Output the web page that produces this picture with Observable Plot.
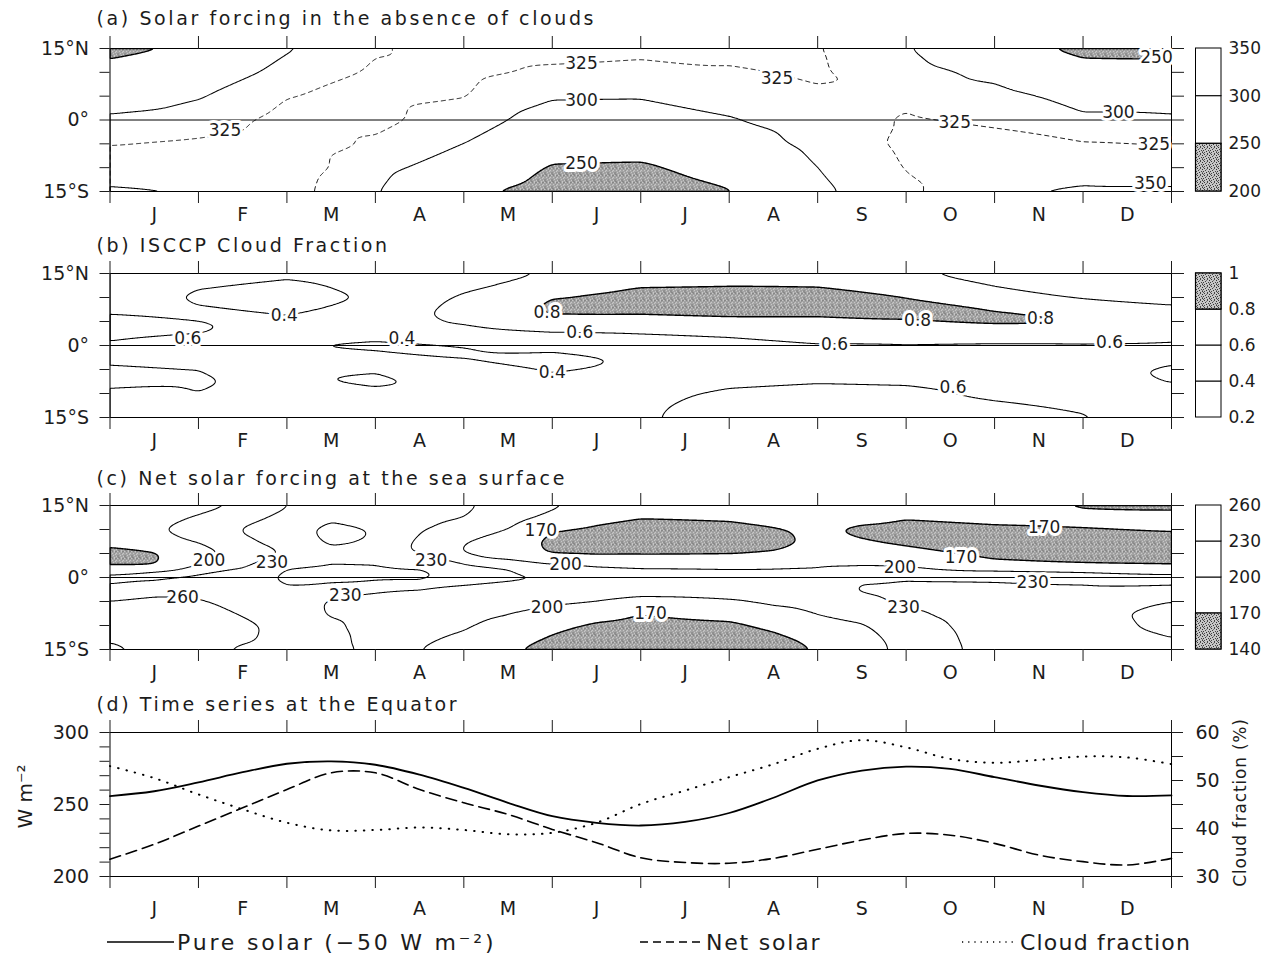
<!DOCTYPE html>
<html>
<head>
<meta charset="utf-8">
<script src="https://cdn.jsdelivr.net/npm/d3@7"></script>
<script src="https://cdn.jsdelivr.net/npm/@observablehq/plot@0.6"></script>
<style>
  html, body { margin: 0; padding: 0; background: #fff; }
  #root { position: relative; width: 1271px; height: 960px; overflow: hidden; background: #fff; }
  #root > svg { position: absolute; overflow: visible; }
</style>
</head>
<body>
<svg width="0" height="0" style="position:absolute">
  <defs>
    <pattern id="stipple" width="7" height="7" patternUnits="userSpaceOnUse">
      <rect width="7" height="7" fill="#c6c6c6"/>
      <rect x="0" y="0" width="1" height="1" fill="#3a3a3a"/>
      <rect x="3" y="0" width="1" height="1" fill="#4a4a4a"/>
      <rect x="5" y="1" width="1" height="1" fill="#333"/>
      <rect x="1" y="2" width="1" height="1" fill="#404040"/>
      <rect x="4" y="3" width="1" height="1" fill="#454545"/>
      <rect x="6" y="3" width="1" height="1" fill="#3a3a3a"/>
      <rect x="2" y="4" width="1" height="1" fill="#333"/>
      <rect x="0" y="5" width="1" height="1" fill="#4a4a4a"/>
      <rect x="5" y="5" width="1" height="1" fill="#3a3a3a"/>
      <rect x="3" y="6" width="1" height="1" fill="#444"/>
      <rect x="6" y="6" width="1" height="1" fill="#555"/>
      <rect x="2" y="1" width="1" height="1" fill="#777"/>
      <rect x="5" y="4" width="1" height="1" fill="#777"/>
    </pattern>
  </defs>
</svg>
<div id="root"></div>
<script>
// ---------------- shared axes ----------------
const monthLabels = ["J","F","M","A","M","J","J","A","S","O","N","D"];
const monthEdges = [0,1,2,3,4,5,6,7,8,9,10,11,12];
const monthCenters = [0.5,1.5,2.5,3.5,4.5,5.5,6.5,7.5,8.5,9.5,10.5,11.5];
const latTicks = [15,10,5,0,-5,-10,-15];
const latTickLabels = {"15": "15°N", "0": "0°", "-15": "15°S"};

// ---------------- (a) Solar forcing in the absence of clouds (W m-2) ----------------
const clearMonths = [0,1,2,3,4,5,6,7,8,9,10,11,12];
const clearLats = [15,10,5,0,-5,-10,-15];
const clear15N = [240,256,297,323,335,333,331,330,326,302,268,240,240];
const clear10N = [263,278,310,328,331,321,318,323,327,313,291,265,263];
const clear5N  = [285,298,324,331,326,303,302,311,323,321,310,290,285];
const clearEq  = [305,312,333,330,315,285,286,298,316,327,321,305,305];
const clear5S  = [324,329,338,322,300,267,266,282,309,330,333,327,324];
const clear10S = [339,341,338,311,280,247,245,265,300,326,342,341,339];
const clear15S = [353,350,335,302,258,235,230,248,294,320,348,353,353];
const clearLevels = [200,250,300,350];
const clearLabelM   = [1.3, 5.33, 5.33, 5.33, 7.54, 9.55, 11.4, 11.8, 11.76, 11.83];
const clearLabelLat = [-2.3, 11.9, 4.0, -9.2, 8.8, -0.6, 1.5, -5.1, -13.3, 13.0];
const clearLabelTxt = ["325","325","300","250","325","325","300","325","350","250"];

// ---------------- (b) ISCCP cloud fraction ----------------
const cloudMonths = [0,1,2,3,4,5,6,7,8,9,10,11,12];
const cloudLats = [15,12.5,10,7.5,5,2.5,0,-2.5,-5,-7.5,-10,-12.5,-15];
const cloud15N  = [0.50,0.50,0.44,0.50,0.50,0.62,0.66,0.68,0.67,0.62,0.55,0.50,0.48];
const cloud12N  = [0.52,0.42,0.36,0.45,0.55,0.70,0.79,0.80,0.79,0.72,0.59,0.53,0.50];
const cloud10N  = [0.55,0.36,0.33,0.42,0.63,0.80,0.86,0.87,0.88,0.80,0.68,0.58,0.55];
const cloud7N   = [0.58,0.42,0.36,0.47,0.66,0.83,0.84,0.86,0.86,0.85,0.80,0.72,0.63];
const cloud5N   = [0.63,0.63,0.44,0.50,0.63,0.75,0.74,0.76,0.76,0.79,0.83,0.805,0.70];
const cloud2N   = [0.65,0.61,0.50,0.47,0.52,0.58,0.60,0.64,0.66,0.70,0.70,0.72,0.68];
const cloudEq   = [0.57,0.50,0.395,0.36,0.40,0.45,0.50,0.52,0.59,0.59,0.58,0.58,0.57];
const cloud2S   = [0.45,0.42,0.48,0.45,0.38,0.36,0.42,0.48,0.52,0.52,0.50,0.50,0.45];
const cloud5S   = [0.37,0.40,0.45,0.42,0.50,0.38,0.43,0.50,0.52,0.52,0.50,0.47,0.37];
const cloud7S   = [0.36,0.39,0.43,0.36,0.48,0.45,0.50,0.56,0.59,0.58,0.53,0.48,0.39];
const cloud10S  = [0.43,0.40,0.47,0.45,0.50,0.50,0.55,0.63,0.65,0.64,0.57,0.53,0.46];
const cloud12S  = [0.47,0.44,0.50,0.50,0.52,0.53,0.57,0.66,0.68,0.67,0.62,0.58,0.50];
const cloud15S  = [0.50,0.50,0.52,0.52,0.53,0.55,0.58,0.67,0.70,0.69,0.65,0.61,0.52];
const cloudLevels = [0.2,0.4,0.6,0.8,1];
const cloudLabelM   = [1.97, 0.88, 3.3, 5.31, 5.0, 4.94, 9.13, 10.52, 8.19, 11.3, 9.53];
const cloudLabelLat = [6.25, 1.4, 1.4, 2.8, -5.6, 6.9, 5.2, 5.6, 0.1, 0.7, -8.7];
const cloudLabelTxt = ["0.4","0.6","0.4","0.6","0.4","0.8","0.8","0.8","0.6","0.6","0.6"];

// ---------------- (c) Net solar forcing at the sea surface (W m-2) ----------------
const netMonths = [0,0.5,1,1.5,2,2.5,3,3.5,4,4.5,5,5.5,6,7,7.5,8,8.5,9,10,11,12];
const netLats = [15,12.5,10,7.5,5,2.5,0,-2.5,-5,-7.5,-10,-12.5,-15];
const net15N = [168,176,188,205,229,240,245,242,235,218,205,188,185,188,192,195,195,192,180,166,166];
const net12N = [180,188,204,222,236,252,250,238,230,212,192,180,171,175,182,188,180,172,176,180,176];
const net10N = [185,197,212,232,242,272,258,233,220,199,172,165,160,160,167,174,164,160,166,168,172];
const net7N  = [180,192,202,226,240,266,256,225,201,185,163,158,156,158,163,175,172,164,160,158,162];
const net5N  = [160,166,186,215,232,248,245,228,198,175,168,166,167,168,172,182,188,180,163,160,158];
const net2N  = [168,168,199,226,256,262,261,255,236,226,205,198,195,194,195,197,198,197,178,172,170];
const netEq  = [208,225,240,245,268,272,270,270,245,238,232,220,215,212,212,214,226,226,225,220,210];
const net2S  = [250,250,252,250,255,245,233,228,222,215,214,214,210,210,212,218,233,240,238,236,242];
const net5S  = [260.5,266,262,254,248,226,222,215,214,207,206,200,193,198,205,210,222,236,245,248,261];
const net7S  = [268,272,270,258,249,227,218,210,208,201,188,182,171,180,190,201,210,225,248,254,266];
const net10S = [268,272,272,265,252,236,216,206,203,192,177,166,160,165,176,190,198,215,246,252,265];
const net12S = [263,270,271,264,252,240,218,204,196,182,168,158,152,155,165,178,192,210,244,250,260];
const net15S = [256,266,268,257,250,240,222,200,190,174,160,152,148,150,158,172,188,208,242,247,255];
const netLevels = [140,170,200,230,260];
const netLabelM   = [1.12, 1.83, 0.82, 3.63, 2.66, 4.87, 5.15, 4.94, 6.11, 8.93, 9.62, 10.56, 10.43, 8.97];
const netLabelLat = [3.5, 3.1, -4.2, 3.5, -3.8, 9.7, 2.8, -6.25, -7.6, 2.1, 4.2, 10.4, -1.0, -6.25];
const netLabelTxt = ["200","230","260","230","230","170","200","200","170","200","170","170","230","230"];

// ---------------- (d) Time series at the Equator ----------------
const tsMonths = [0,0.5,1,1.5,2,2.5,3,3.5,4,4.5,5,5.5,6,6.5,7,7.5,8,8.5,9,9.5,10,10.5,11,11.5,12];
const pureSolar = [255.8,259.2,265.4,272.4,278.3,280.0,277.6,270.7,261.5,251.2,241.9,237.3,235.4,237.9,244.1,254.7,266.7,273.6,276.3,274.7,269.0,263.2,258.6,255.9,256.3];
const netSolar  = [212.0,222.4,235.0,247.7,260.4,272.0,272.0,260.4,251.2,243.1,232.7,223.5,213.0,209.7,209.2,212.6,218.9,225.3,229.9,228.7,223.0,214.9,210.3,208.0,212.6];
const cloudFrac = [53.0,50.5,47.1,44.0,41.2,39.6,39.7,40.2,39.7,38.8,39.1,41.2,45.1,47.9,50.7,53.4,56.6,58.4,56.9,54.5,53.7,54.3,55.0,54.8,53.4];
const wTicks = [200,210,220,230,240,250,260,270,280,290,300];
const wTickLabels = [200,250,300];
const cloudTicks = [30,35,40,45,50,55,60];
const cloudTickLabels = [30,40,50,60];

// ---------------- layout helpers ----------------
const W = 1271, FL = 109.5, FR = 1171;
const FONT = '"DejaVu Sans", "Liberation Sans", Arial, sans-serif';
const INK = "#1c1c1c";
const panelStyle = {fontFamily: FONT, fontSize: "19px", color: INK, background: "transparent", overflow: "visible"};
const root = document.getElementById("root");

function place(svg, top, left = 0) {
  svg.style.position = "absolute";
  svg.style.top = top + "px";
  svg.style.left = left + "px";
  svg.style.maxWidth = "none";
  root.appendChild(svg);
}

function spaceText(svg, text, spacing) {
  d3.select(svg).selectAll("text").filter(function () { return this.textContent === text; })
    .style("letter-spacing", spacing);
}

function gridPoints(months, lats, rows) {
  const pts = [];
  rows.forEach((row, i) => row.forEach((v, j) => pts.push({m: months[j], lat: lats[i], v})));
  return pts;
}

function labelRows(ms, lats, txt) {
  return ms.map((m, i) => ({m, lat: lats[i], t: txt[i]}));
}

function monthAxes(pad) {
  return [
    Plot.axisX({anchor: "bottom", ticks: monthEdges, tickSize: 12, tickFormat: () => "", label: null}),
    Plot.axisX({anchor: "top", ticks: monthEdges, tickSize: 13, tickFormat: () => "", label: null}),
    Plot.axisX({anchor: "bottom", ticks: monthCenters, tickSize: 0, tickPadding: pad,
      tickFormat: (d) => monthLabels[Math.floor(d)], label: null})
  ];
}

function titleMark(text, dy) {
  return Plot.text([text], {frameAnchor: "top-left", text: (d) => d, textAnchor: "start", lineAnchor: "middle",
    dx: -13.5, dy, fontSize: 19, fill: INK});
}

function contourPanel(o) {
  const pts = gridPoints(o.months, o.lats, o.rows);
  const base = {x: "m", y: "lat", interpolate: "barycentric", pixelSize: 1, blur: 3, clip: true};
  const marks = [
    Plot.contour(pts, {...base, value: o.shadeBelow ? (d) => -d.v : "v",
      thresholds: [o.shadeBelow ? -o.shade : o.shade], fill: "url(#stipple)", stroke: "#000", strokeWidth: 1.4}),
    Plot.contour(pts, {...base, value: "v", thresholds: o.solid, fill: "none", stroke: "#000", strokeWidth: 1.05})
  ];
  if (o.dashed) marks.push(Plot.contour(pts, {...base, value: "v", thresholds: o.dashed, fill: "none",
    stroke: "#000", strokeWidth: 0.9, strokeDasharray: "5,3"}));
  marks.push(
    Plot.ruleY([0], {stroke: "#000", strokeWidth: 1}),
    Plot.frame({stroke: "#000"}),
    ...monthAxes(16),
    Plot.axisY({anchor: "left", ticks: latTicks, tickSize: 10, tickPadding: 11,
      tickFormat: (d) => latTickLabels[d] ?? "", label: null}),
    Plot.axisY({anchor: "right", ticks: latTicks, tickSize: 12, tickFormat: () => "", label: null}),
    Plot.text(o.labels, {x: "m", y: "lat", text: "t", fontSize: 17, fill: INK,
      stroke: "#fff", strokeWidth: 6, paintOrder: "stroke"}),
    titleMark(o.title, o.titleDy)
  );
  const svg = Plot.plot({width: W, height: o.height, marginTop: o.mTop, marginBottom: o.mBottom,
    marginLeft: FL, marginRight: W - FR, x: {domain: [0, 12]}, y: {domain: [-15, 15]},
    style: panelStyle, marks});
  spaceText(svg, o.title, "2.6px");
  place(svg, o.top);
  colorbar(o.levels, o.shadeBand, o.fmt, o);
}

function colorbar(levels, shadeBand, fmt, o) {
  const bands = levels.slice(0, -1).map((lo, i) => ({lo, hi: levels[i + 1]}));
  const shaded = bands.filter((b) => b.lo >= shadeBand[0] && b.hi <= shadeBand[1]);
  const svg = Plot.plot({width: 81, height: o.height, marginTop: o.mTop, marginBottom: o.mBottom,
    marginLeft: 5.5, marginRight: 50,
    x: {domain: [0, 1], axis: null}, y: {domain: [levels[0], levels[levels.length - 1]], axis: null},
    style: {...panelStyle, fontSize: "17px"},
    marks: [
      Plot.rect(bands, {x1: 0, x2: 1, y1: "lo", y2: "hi", fill: "white", stroke: "#000"}),
      Plot.rect(shaded, {x1: 0, x2: 1, y1: "lo", y2: "hi", fill: "url(#stipple)", stroke: "#000", strokeWidth: 1.2}),
      Plot.axisY({anchor: "right", ticks: levels, tickSize: 0, tickPadding: 7, tickFormat: fmt, label: null})
    ]});
  place(svg, o.top, 1190);
}

// ---------------- panels ----------------
contourPanel({
  top: 0, height: 230, mTop: 48, mBottom: 39, titleDy: -30,
  title: "(a) Solar forcing in the absence of clouds",
  months: clearMonths, lats: clearLats,
  rows: [clear15N, clear10N, clear5N, clearEq, clear5S, clear10S, clear15S],
  shade: 250, shadeBelow: true, solid: [300, 350], dashed: [325],
  labels: labelRows(clearLabelM, clearLabelLat, clearLabelTxt),
  levels: clearLevels, shadeBand: [200, 250], fmt: (d) => String(d)
});

contourPanel({
  top: 230, height: 230, mTop: 43, mBottom: 43, titleDy: -28,
  title: "(b) ISCCP Cloud Fraction",
  months: cloudMonths, lats: cloudLats,
  rows: [cloud15N, cloud12N, cloud10N, cloud7N, cloud5N, cloud2N, cloudEq, cloud2S, cloud5S, cloud7S, cloud10S, cloud12S, cloud15S],
  shade: 0.8, shadeBelow: false, solid: [0.4, 0.6], dashed: null,
  labels: labelRows(cloudLabelM, cloudLabelLat, cloudLabelTxt),
  levels: cloudLevels, shadeBand: [0.8, 1], fmt: (d) => String(d)
});

contourPanel({
  top: 460, height: 230, mTop: 45, mBottom: 41, titleDy: -27,
  title: "(c) Net solar forcing at the sea surface",
  months: netMonths, lats: netLats,
  rows: [net15N, net12N, net10N, net7N, net5N, net2N, netEq, net2S, net5S, net7S, net10S, net12S, net15S],
  shade: 170, shadeBelow: true, solid: [200, 230, 260], dashed: null,
  labels: labelRows(netLabelM, netLabelLat, netLabelTxt),
  levels: netLevels, shadeBand: [140, 170], fmt: (d) => String(d)
});

// (d) time series
const toW = (c) => 200 + (c - 30) * 100 / 30;
const fromW = (w) => 30 + (w - 200) * 30 / 100;
const ts = tsMonths.map((m, i) => ({m, pure: pureSolar[i], net: netSolar[i], cloud: cloudFrac[i]}));
const titleD = "(d) Time series at the Equator";
const svgD = Plot.plot({
  width: W, height: 230, marginTop: 42, marginBottom: 44, marginLeft: FL, marginRight: W - FR,
  x: {domain: [0, 12]}, y: {domain: [200, 300]}, style: panelStyle,
  marks: [
    Plot.line(ts, {x: "m", y: "pure", curve: "catmull-rom", stroke: "#000", strokeWidth: 1.8}),
    Plot.line(ts, {x: "m", y: "net", curve: "catmull-rom", stroke: "#000", strokeWidth: 1.6, strokeDasharray: "11,6"}),
    Plot.line(ts, {x: "m", y: (d) => toW(d.cloud), curve: "catmull-rom", stroke: "#000", strokeWidth: 2,
      strokeDasharray: "0.5,8", strokeLinecap: "round"}),
    Plot.frame({stroke: "#000"}),
    ...monthAxes(25),
    Plot.axisY({anchor: "left", ticks: wTicks, tickSize: 10, tickPadding: 11,
      tickFormat: (d) => wTickLabels.includes(d) ? String(d) : "", label: null}),
    Plot.axisY({anchor: "right", ticks: cloudTicks.map(toW), tickSize: 11, tickPadding: 13,
      tickFormat: (w) => { const c = Math.round(fromW(w)); return cloudTickLabels.includes(c) ? String(c) : ""; }, label: null}),
    Plot.text(["W m⁻²"], {frameAnchor: "left", text: (d) => d, textAnchor: "middle", lineAnchor: "middle",
      dx: -84, dy: -8, rotate: -90, fontSize: 20, fill: INK}),
    Plot.text(["Cloud fraction (%)"], {frameAnchor: "right", text: (d) => d, textAnchor: "middle", lineAnchor: "middle",
      dx: 69, dy: -2, rotate: -90, fontSize: 17, fill: INK}),
    titleMark(titleD, -28)
  ]
});
spaceText(svgD, titleD, "2.6px");
spaceText(svgD, "Cloud fraction (%)", "0.8px");
place(svgD, 690);

// legend
const legendItems = [
  {label: "Pure solar (−50 W m⁻²)", dash: null, x1: 107, x2: 174, tx: 177, ls: "2.8px"},
  {label: "Net solar", dash: "8,5", x1: 640, x2: 702, tx: 706, ls: "1.8px"},
  {label: "Cloud fraction", dash: "1.2,5", x1: 962, x2: 1016, tx: 1020, ls: "1.2px"}
];
const leg = d3.create("svg").attr("width", W).attr("height", 44)
  .style("font-family", FONT).style("font-size", "22px");
const gi = leg.selectAll("g").data(legendItems).join("g");
gi.append("line").attr("x1", (d) => d.x1).attr("x2", (d) => d.x2).attr("y1", 22).attr("y2", 22)
  .attr("stroke", "#000").attr("stroke-width", 1.6).attr("stroke-dasharray", (d) => d.dash);
gi.append("text").attr("x", (d) => d.tx).attr("y", 22).attr("dy", "0.35em").attr("fill", INK)
  .style("letter-spacing", (d) => d.ls).text((d) => d.label);
place(leg.node(), 920);
</script>
</body>
</html>
